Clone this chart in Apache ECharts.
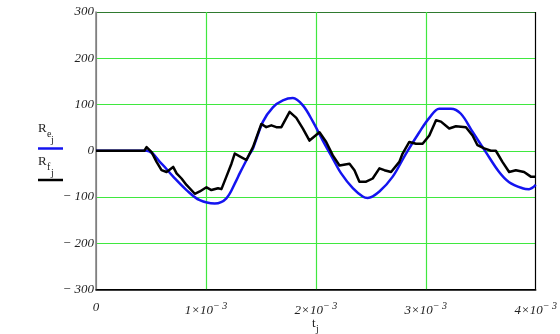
<!DOCTYPE html>
<html>
<head>
<meta charset="utf-8">
<script src="https://cdn.jsdelivr.net/npm/echarts@6/dist/echarts.min.js"></script>
<style>html,body{margin:0;padding:0;background:#fff;}#c{width:560px;height:334px;}</style>
</head>
<body>
<div id="c"></div>
<script>
// time in milliseconds (multiplied by 1e-3 for the axis, which is in seconds)
var reTimeMs = [0, 0.46, 0.596, 0.702, 0.823, 0.944, 1.080, 1.186, 1.277, 1.307, 1.398, 1.428, 1.519, 1.609, 1.700, 1.791, 1.882, 1.973, 2.063, 2.154, 2.230, 2.336, 2.426, 2.472, 2.578, 2.699, 2.820, 2.941, 3.032, 3.122, 3.228, 3.319, 3.425, 3.546, 3.667, 3.758, 3.879, 3.939, 4.0];
var reValues = [0, 0, -28, -56, -85, -107, -114, -103, -64, -49, -7, 5, 63, 94, 109, 114, 98, 63, 22, -17, -49, -81, -99, -102, -88, -56, -6, 40, 71, 91, 91, 80, 41, -3, -46, -68, -81, -83, -74];

var rfTimeMs = [0, 0.44, 0.46, 0.506, 0.551, 0.596, 0.642, 0.702, 0.733, 0.778, 0.823, 0.899, 0.944, 1.005, 1.050, 1.110, 1.141, 1.186, 1.232, 1.262, 1.307, 1.368, 1.398, 1.428, 1.504, 1.549, 1.595, 1.640, 1.686, 1.761, 1.822, 1.882, 1.942, 2.033, 2.094, 2.154, 2.215, 2.306, 2.351, 2.396, 2.457, 2.517, 2.578, 2.623, 2.684, 2.759, 2.789, 2.850, 2.911, 2.971, 3.032, 3.093, 3.138, 3.213, 3.274, 3.365, 3.425, 3.470, 3.531, 3.592, 3.637, 3.697, 3.758, 3.819, 3.894, 3.955, 4.0];
var rfValues = [0, 0, 8, -3, -24, -42, -46, -35, -49, -60, -74, -93, -88, -79, -85, -81, -83, -56, -28, -6, -12, -20, -6, 8, 58, 51, 55, 51, 51, 84, 71, 48, 22, 40, 19, -10, -32, -28, -42, -67, -67, -60, -38, -42, -46, -24, -6, 19, 15, 15, 33, 66, 63, 48, 53, 51, 33, 12, 5, 0, 0, -24, -46, -42, -46, -56, -56];

var xTickLabels = ['0', '1', '2', '3', '4'];
var yTicks = [-300, -200, -100, 0, 100, 200, 300];

function pairs(ts, vs) {
  var out = [];
  for (var i = 0; i < ts.length; i++) out.push([ts[i] * 1e-3, vs[i]]);
  return out;
}

var serif = "'Liberation Serif', 'DejaVu Serif', serif";
var green = '#3fe83f';

var chart = echarts.init(document.getElementById('c'), null, {renderer: 'canvas'});
chart.setOption({
  animation: false,
  backgroundColor: '#fff',
  grid: {left: 96, top: 12, width: 441, height: 277.5, containLabel: false},
  xAxis: {
    type: 'value', min: 0, max: 0.004, interval: 0.001,
    axisLine: {show: true, onZero: false, lineStyle: {color: '#000', width: 1.5}},
    axisTick: {show: false},
    splitLine: {show: true, lineStyle: {color: ['#808080', green, green, green, '#000'], width: 1.2}},
    axisLabel: {
      margin: 12,
      formatter: function (v) {
        var k = Math.round(v * 1000);
        if (k === 0) return '{n|0}';
        return '{n|' + xTickLabels[k] + '×10}{s|− 3}';
      },
      rich: {
        n: {fontFamily: serif, fontStyle: 'italic', fontSize: 13, color: '#222'},
        s: {fontFamily: serif, fontStyle: 'italic', fontSize: 10, color: '#222', padding: [0, 0, 9, 0]}
      }
    }
  },
  yAxis: {
    type: 'value', min: -300, max: 300, interval: 100,
    axisLine: {show: true, onZero: false, lineStyle: {color: '#808080', width: 1.5}},
    axisTick: {show: false},
    splitLine: {show: true, lineStyle: {color: ['#000', green, green, green, green, green, '#2f7a2f'], width: 1.2}},
    axisLabel: {
      margin: 2,
      fontFamily: serif, fontStyle: 'italic', fontSize: 13, color: '#222',
      formatter: function (v) { return v < 0 ? '− ' + Math.abs(v) : String(v); }
    }
  },
  series: [
    {name: 'Re', type: 'line', data: pairs(reTimeMs, reValues), showSymbol: false, smooth: 0.35,
      lineStyle: {color: '#1414f0', width: 2.5}, z: 3},
    {name: 'Rf', type: 'line', data: pairs(rfTimeMs, rfValues), showSymbol: false, smooth: false,
      lineStyle: {color: '#000', width: 2.5, join: 'round'}, z: 4}
  ],
  graphic: [
    {type: 'text', left: 38, top: 122, style: {text: 'R', font: '13px ' + serif, fill: '#222'}},
    {type: 'text', left: 47, top: 129, style: {text: 'e', font: '10px ' + serif, fill: '#222'}},
    {type: 'text', left: 51, top: 135, style: {text: 'j', font: '10px ' + serif, fill: '#222'}},
    {type: 'line', shape: {x1: 38, y1: 148.5, x2: 63, y2: 148.5}, style: {stroke: '#1414f0', lineWidth: 2.5}},
    {type: 'text', left: 38, top: 155, style: {text: 'R', font: '13px ' + serif, fill: '#222'}},
    {type: 'text', left: 47, top: 162, style: {text: 'f', font: '10px ' + serif, fill: '#222'}},
    {type: 'text', left: 51, top: 168, style: {text: 'j', font: '10px ' + serif, fill: '#222'}},
    {type: 'line', shape: {x1: 38, y1: 180, x2: 63, y2: 180}, style: {stroke: '#000', lineWidth: 2.5}},
    {type: 'text', left: 312, top: 317, style: {text: 't', font: '13px ' + serif, fill: '#222'}},
    {type: 'text', left: 316, top: 324, style: {text: 'j', font: '10px ' + serif, fill: '#222'}}
  ]
});
</script>
</body>
</html>
